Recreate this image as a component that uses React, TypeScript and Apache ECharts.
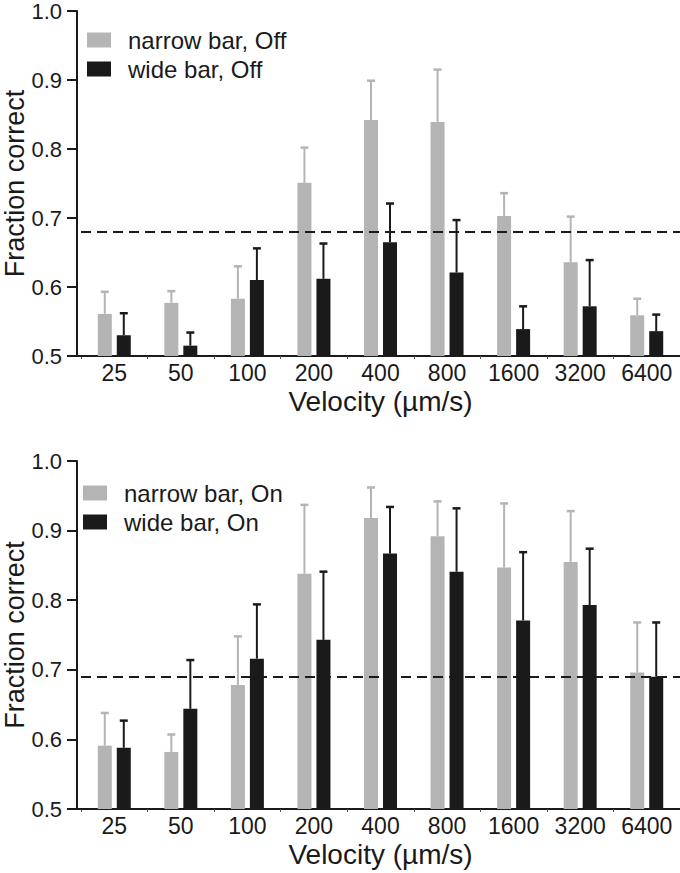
import React, { useEffect, useRef } from "react";
import * as echarts from "echarts";

const categories = ["25", "50", "100", "200", "400", "800", "1600", "3200", "6400"];
const yTicks = [0.5, 0.6, 0.7, 0.8, 0.9, 1.0];

const narrowOff = [0.561, 0.577, 0.583, 0.751, 0.842, 0.839, 0.703, 0.636, 0.559];
const narrowOffErr = [0.032, 0.017, 0.047, 0.051, 0.057, 0.076, 0.033, 0.066, 0.024];
const wideOff = [0.530, 0.515, 0.610, 0.612, 0.665, 0.621, 0.539, 0.572, 0.536];
const wideOffErr = [0.032, 0.019, 0.046, 0.051, 0.056, 0.076, 0.033, 0.067, 0.024];

const narrowOn = [0.591, 0.582, 0.678, 0.838, 0.918, 0.892, 0.847, 0.855, 0.696];
const narrowOnErr = [0.047, 0.025, 0.070, 0.099, 0.044, 0.050, 0.092, 0.073, 0.072];
const wideOn = [0.588, 0.644, 0.716, 0.743, 0.867, 0.841, 0.771, 0.793, 0.690];
const wideOnErr = [0.039, 0.070, 0.078, 0.098, 0.067, 0.091, 0.098, 0.081, 0.078];

const chanceOff = 0.683;
const chanceOn = 0.685;

const GRAY = "#b4b4b4";
const BLACK = "#1a1a1a";
const FONT = "Liberation Sans, Arial, Helvetica, sans-serif";
const BAR_W = 14;
const BAR_GAP = 5;
const LEFT = 81;
const Y_OFFSET = 4;
const GRIDS = [
  { top: 11, height: 345 },
  { top: 461, height: 348 },
];

function errorSeries(name: string, vals: number[], errs: number[], idx: number, side: number, color: string) {
  return {
    type: "custom",
    name,
    xAxisIndex: idx,
    yAxisIndex: idx,
    z: 5,
    silent: true,
    data: vals.map((v, i) => [i, v, v + errs[i]]),
    renderItem: (params: any, api: any) => {
      const c = api.value(0);
      const v = api.value(1);
      const t = api.value(2);
      const p1 = api.coord([c, v]);
      const p2 = api.coord([c, t]);
      const x = p1[0] + side * (BAR_W + BAR_GAP) / 2;
      const capHalf = 4;
      return {
        type: "group",
        children: [
          { type: "line", shape: { x1: x, y1: p1[1], x2: x, y2: p2[1] }, style: { stroke: color, lineWidth: 2 } },
          { type: "line", shape: { x1: x - capHalf, y1: p2[1], x2: x + capHalf, y2: p2[1] }, style: { stroke: color, lineWidth: 2.5 } },
        ],
      };
    },
  };
}

function barSeries(name: string, vals: number[], idx: number, color: string, chance?: number) {
  const s: any = {
    type: "bar",
    name,
    xAxisIndex: idx,
    yAxisIndex: idx,
    data: vals,
    barWidth: BAR_W,
    barGap: ((BAR_GAP / BAR_W) * 100).toFixed(1) + "%",
    itemStyle: { color },
    z: 2,
  };
  if (chance !== undefined) {
    s.markLine = {
      silent: true,
      symbol: "none",
      label: { show: false },
      lineStyle: { type: [10, 6], color: BLACK, width: 2 },
      data: [{ yAxis: chance }],
      z: 6,
    };
  }
  return s;
}

export default function App() {
  const ref = useRef<HTMLDivElement>(null);
  useEffect(() => {
    document.body.style.margin = "0";
    const chart = echarts.init(ref.current!, undefined, { renderer: "svg" });
    const xAxes = GRIDS.map((_, i) => ({
      type: "category",
      gridIndex: i,
      data: categories,
      name: "Velocity (µm/s)",
      nameLocation: "middle",
      nameGap: 31,
      nameMoveOverlap: false,
      nameTextStyle: { fontSize: 28, color: BLACK, fontFamily: FONT },
      axisLine: { show: true, lineStyle: { color: BLACK, width: 2 } },
      axisTick: { show: true, length: 3, lineStyle: { color: "#555", width: 1 } },
      axisLabel: { fontSize: 23, color: BLACK, fontFamily: FONT, margin: 5 },
    }));
    const yAxes = GRIDS.map((_, i) => ({
      type: "value",
      gridIndex: i,
      min: yTicks[0],
      max: yTicks[yTicks.length - 1],
      interval: 0.1,
      offset: Y_OFFSET,
      name: "Fraction correct",
      nameLocation: "middle",
      nameGap: 49,
      nameMoveOverlap: false,
      nameTextStyle: { fontSize: 27, color: BLACK, fontFamily: FONT },
      splitLine: { show: false },
      axisLine: { show: true, lineStyle: { color: BLACK, width: 2 } },
      axisTick: { show: true, length: 10, lineStyle: { color: BLACK, width: 2 } },
      axisLabel: { fontSize: 22, color: BLACK, fontFamily: FONT, margin: 15, formatter: (v: number) => v.toFixed(1) },
    }));
    const legendCommon = {
      orient: "vertical",
      padding: 0,
      itemWidth: 24,
      itemHeight: 15,
      itemGap: 5,
      icon: "rect",
      selectedMode: false,
      textStyle: { fontSize: 24, color: BLACK, fontFamily: FONT, padding: [0, 0, 0, 12] },
    };
    chart.setOption({
      animation: false,
      backgroundColor: "#ffffff",
      grid: GRIDS.map((g) => ({
        left: LEFT,
        right: 0,
        top: g.top,
        height: g.height,
        containLabel: false,
        outerBoundsMode: "none",
      })),
      xAxis: xAxes,
      yAxis: yAxes,
      legend: [
        { ...legendCommon, left: 87, top: 28, data: ["narrow bar, Off", "wide bar, Off"] },
        { ...legendCommon, left: 83, top: 481, data: ["narrow bar, On", "wide bar, On"] },
      ],
      graphic: GRIDS.map((g) => ({
        type: "line",
        shape: { x1: LEFT - Y_OFFSET - 1, y1: g.top + g.height, x2: LEFT + 1, y2: g.top + g.height },
        style: { stroke: BLACK, lineWidth: 2 },
        z: 10,
      })),
      series: [
        barSeries("narrow bar, Off", narrowOff, 0, GRAY, chanceOff),
        barSeries("wide bar, Off", wideOff, 0, BLACK),
        errorSeries("errNarrowOff", narrowOff, narrowOffErr, 0, -1, GRAY),
        errorSeries("errWideOff", wideOff, wideOffErr, 0, 1, BLACK),
        barSeries("narrow bar, On", narrowOn, 1, GRAY, chanceOn),
        barSeries("wide bar, On", wideOn, 1, BLACK),
        errorSeries("errNarrowOn", narrowOn, narrowOnErr, 1, -1, GRAY),
        errorSeries("errWideOn", wideOn, wideOnErr, 1, 1, BLACK),
      ],
    });
    return () => chart.dispose();
  }, []);
  return <div ref={ref} style={{ width: 680, height: 873 }} />;
}
